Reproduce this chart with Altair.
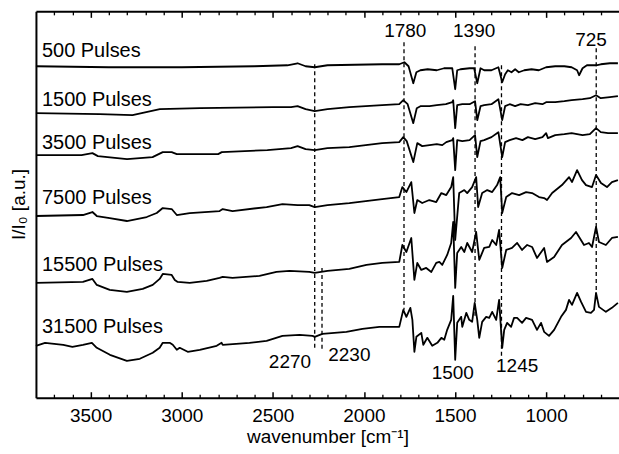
import altair as alt
import pandas as pd

# ---------------- spectra (wavenumber, I/I0 in arbitrary offset units) ----------------
w500 = [3800, 3400, 3000, 2600, 2420, 2364, 2320, 2270, 2200, 1900, 1806, 1778, 1755, 1729, 1712,
        1690, 1650, 1600, 1560, 1515, 1499, 1488, 1470, 1420, 1395, 1378, 1360, 1340, 1300, 1262,
        1241, 1225, 1210, 1190, 1170, 1150, 1120, 1080, 1040, 1000, 950, 900, 860, 830, 819,
        800, 776, 726, 700, 650, 606]
v500 = [332, 331, 331, 332, 333, 335, 332, 331, 333, 334, 334, 336, 332, 315, 326,
        328, 329, 328, 330, 330, 309, 328, 329, 330, 330, 315, 330, 328, 328, 331,
        316, 324, 328, 326, 329, 326, 328, 329, 328, 331, 332, 332, 331, 328, 323,
        330, 333, 333, 334, 335, 335]

w1500 = [3800, 3450, 3270, 3120, 2900, 2500, 2400, 2364, 2320, 2270, 2200, 2080, 1900, 1806, 1784,
         1760, 1729, 1710, 1690, 1640, 1600, 1550, 1515, 1510, 1499, 1488, 1460, 1420, 1390, 1378,
         1360, 1340, 1300, 1262, 1241, 1225, 1200, 1170, 1140, 1100, 1060, 1020, 1000, 950, 900,
         860, 800, 760, 726, 700, 650, 606]
v1500 = [285, 284, 283, 289, 290, 291, 291, 292, 289, 287, 289, 291, 293, 294, 298,
         294, 275, 290, 292, 292, 293, 294, 296, 298, 270, 293, 294, 294, 297, 278,
         292, 293, 294, 299, 278, 292, 294, 292, 294, 293, 295, 294, 296, 296, 297,
         298, 299, 300, 303, 300, 301, 302]

w3500 = [3800, 3550, 3490, 3460, 3300, 3160, 3104, 3055, 3027, 2800, 2780, 2530, 2400, 2364, 2320,
         2270, 2200, 2080, 1900, 1806, 1784, 1765, 1729, 1707, 1680, 1640, 1600, 1570, 1548, 1515,
         1510, 1499, 1488, 1460, 1420, 1390, 1378, 1360, 1340, 1300, 1262, 1241, 1225, 1200, 1165,
         1130, 1100, 1060, 1020, 1000, 990, 950, 900, 860, 800, 760, 726, 700, 660, 606]
v3500 = [243, 243, 245, 242, 239, 241, 246, 246, 244, 244, 246, 248, 250, 252, 249,
         248, 250, 251, 255, 256, 261, 257, 236, 255, 252, 253, 254, 253, 256, 258,
         260, 228, 258, 257, 258, 263, 241, 257, 258, 261, 266, 241, 256, 258, 260,
         258, 261, 259, 261, 265, 260, 263, 264, 265, 263, 264, 270, 266, 265, 265]

w7500 = [3800, 3542, 3490, 3466, 3395, 3301, 3192, 3137, 3104, 3055, 3027, 2956, 2792, 2775, 2721,
         2534, 2447, 2364, 2300, 2270, 2200, 2080, 1900, 1806, 1789, 1767, 1740, 1723, 1707, 1680,
         1641, 1603, 1575, 1548, 1521, 1510, 1499, 1477, 1449, 1433, 1406, 1384, 1373, 1351, 1323,
         1296, 1269, 1252, 1241, 1219, 1187, 1148, 1110, 1077, 1039, 1011, 995, 967, 913, 874,
         858, 830, 803, 781, 748, 726, 699, 666, 639, 606]
v7500 = [182, 183, 186, 182, 180, 177, 181, 185, 190, 189, 183, 185, 187, 189, 187,
         191, 194, 193, 193, 191, 193, 195, 199, 201, 211, 206, 216, 185, 198, 195,
         198, 196, 205, 203, 211, 221, 158, 205, 208, 205, 211, 221, 191, 205, 208,
         206, 213, 221, 185, 201, 205, 203, 206, 205, 201, 200, 198, 205, 213, 221,
         216, 228, 218, 213, 211, 223, 215, 211, 216, 218]

w15500 = [3800, 3542, 3490, 3466, 3395, 3301, 3214, 3159, 3121, 3104, 3055, 3038, 3022, 2956, 2863,
          2792, 2775, 2721, 2573, 2480, 2408, 2300, 2270, 2200, 2080, 1986, 1899, 1806, 1789, 1767,
          1740, 1723, 1707, 1685, 1658, 1630, 1603, 1586, 1570, 1543, 1521, 1510, 1499, 1488, 1466,
          1449, 1433, 1406, 1384, 1367, 1340, 1312, 1296, 1274, 1258, 1241, 1219, 1187, 1159, 1132,
          1104, 1077, 1050, 1011, 995, 956, 913, 863, 836, 819, 792, 765, 748, 726, 710,
          672, 639, 606]
v15500 = [115, 116, 119, 113, 108, 106, 109, 113, 119, 124, 123, 118, 116, 115, 117,
          120, 121, 120, 122, 126, 127, 126, 125, 127, 129, 133, 135, 136, 153, 146,
          160, 118, 135, 128, 130, 126, 135, 136, 133, 143, 155, 176, 110, 145, 151,
          146, 155, 146, 166, 138, 150, 151, 158, 153, 168, 130, 148, 150, 155, 148,
          153, 151, 140, 150, 136, 141, 153, 160, 166, 161, 153, 155, 151, 171, 156,
          153, 160, 161]

w31500 = [3800, 3750, 3700, 3650, 3600, 3542, 3493, 3466, 3394, 3301, 3230, 3159, 3121, 3104, 3066,
          3049, 3027, 3011, 2967, 2901, 2808, 2781, 2775, 2628, 2534, 2447, 2353, 2282, 2270, 2228,
          2096, 2008, 1915, 1806, 1784, 1767, 1745, 1734, 1723, 1712, 1685, 1674, 1652, 1625, 1597,
          1575, 1559, 1543, 1521, 1510, 1499, 1488, 1466, 1460, 1438, 1422, 1406, 1392, 1378, 1367,
          1351, 1329, 1312, 1296, 1274, 1258, 1241, 1230, 1214, 1192, 1176, 1159, 1132, 1110, 1077,
          1050, 1028, 1011, 984, 956, 918, 891, 874, 858, 830, 808, 781, 754, 737, 726,
          710, 672, 639, 606]
v31500 = [52, 55, 54, 53, 51, 53, 55, 50, 43, 37, 39, 45, 50, 55, 55,
          53, 48, 50, 46, 48, 52, 55, 53, 55, 57, 62, 63, 62, 61, 64,
          66, 69, 71, 71, 88, 81, 90, 78, 46, 61, 65, 53, 60, 52, 55,
          60, 58, 68, 78, 102, 38, 75, 81, 71, 85, 78, 76, 95, 78, 60,
          76, 81, 80, 86, 78, 98, 50, 68, 75, 71, 80, 80, 75, 80, 78,
          68, 75, 66, 62, 68, 81, 88, 98, 93, 105, 96, 86, 85, 88, 105,
          91, 86, 90, 95]

trace_names = ["500 Pulses", "1500 Pulses", "3500 Pulses", "7500 Pulses", "15500 Pulses", "31500 Pulses"]
trace_w = [w500, w1500, w3500, w7500, w15500, w31500]
trace_v = [v500, v1500, v3500, v7500, v15500, v31500]
trace_label_v = [347, 298, 255, 200, 133, 71]
trace_label_w = [3767, 3767, 3767, 3767, 3767, 3767]

# ---------------- band markers ----------------
band_w = [2270, 2230, 1780, 1390, 1245, 725]
band_top = [334, 130, 356, 352, 333, 350]
band_bottom = [48, 48, 88, 81, 40, 98]

band_label = ["2270", "2230", "1780", "1390", "1500", "1245", "725"]
band_label_w = [2406, 2080, 1773, 1395, 1512, 1159, 754]
band_label_v = [36, 43, 367, 367, 25, 32, 358]

major_ticks = [1000, 1500, 2000, 2500, 3000, 3500]
minor_ticks = [700, 800, 900, 1100, 1200, 1300, 1400, 1600, 1700, 1800, 1900, 2100, 2200, 2300,
               2400, 2600, 2700, 2800, 2900, 3100, 3200, 3300, 3400, 3600, 3700]

# ---------------- tables ----------------
rows = []
for name, ws, vs in zip(trace_names, trace_w, trace_v):
    for w, v in zip(ws, vs):
        rows.append({"trace": name, "w": w, "v": v})
spec_df = pd.DataFrame(rows)
band_df = pd.DataFrame({"w": band_w, "top": band_top, "bottom": band_bottom})
blab_df = pd.DataFrame({"w": band_label_w, "v": band_label_v, "label": band_label})
tlab_df = pd.DataFrame({"w": trace_label_w, "v": trace_label_v, "label": trace_names})

FONT = "Liberation Sans"
xscale = alt.Scale(domain=[600, 3800], reverse=True, nice=False, zero=False)
yscale = alt.Scale(domain=[0, 387], nice=False, zero=False)


def tick_axis(orient, values, size, width):
    return alt.Axis(orient=orient, values=values, offset=-size, tickSize=size, tickWidth=width,
                    tickColor="black", domain=False, grid=False, labels=False, title="")


x_bottom_major = alt.Axis(orient="bottom", values=major_ticks, offset=-6, tickSize=6, tickWidth=1.5,
                          tickColor="black", domain=False, grid=False, format="d",
                          labelFont=FONT, labelFontSize=19, labelColor="black", labelPadding=9,
                          title="wavenumber [cm⁻¹]", titleFont=FONT, titleFontSize=19,
                          titleFontWeight="normal", titleColor="black", titlePadding=2)
frame_axis_bottom = alt.Axis(orient="bottom", offset=0, ticks=False, labels=False, grid=False,
                             domain=True, domainColor="black", domainWidth=2, title="")
frame_axis_top = alt.Axis(orient="top", offset=0, ticks=False, labels=False, grid=False,
                          domain=True, domainColor="black", domainWidth=2, title="")
y_axis = alt.Axis(orient="left", ticks=False, labels=False, grid=False,
                  domain=True, domainColor="black", domainWidth=2,
                  title="I/I₀ [a.u.]", titleFont=FONT, titleFontSize=19, titleFontWeight="normal",
                  titleColor="black", titleX=-11, titleY=193, titleAngle=270,
                  titleAlign="center", titleBaseline="alphabetic")

lines = alt.Chart(spec_df).mark_line(color="black", strokeWidth=1.8, strokeJoin="round").encode(
    x=alt.X("w:Q", scale=xscale, axis=x_bottom_major),
    y=alt.Y("v:Q", scale=yscale, axis=y_axis),
    detail="trace:N",
)

rules = alt.Chart(band_df).mark_rule(color="black", strokeDash=[4, 3], strokeWidth=1.3).encode(
    x=alt.X("w:Q", scale=xscale, axis=tick_axis("top", major_ticks, 6, 1.5)),
    y=alt.Y("top:Q", scale=yscale, axis=None),
    y2="bottom:Q",
)

band_text = alt.Chart(blab_df).mark_text(font=FONT, fontSize=19, color="black",
                                         align="center", baseline="middle").encode(
    x=alt.X("w:Q", scale=xscale, axis=tick_axis("bottom", minor_ticks, 3.5, 1.3)),
    y=alt.Y("v:Q", scale=yscale, axis=None),
    text="label:N",
)

trace_text = alt.Chart(tlab_df).mark_text(font=FONT, fontSize=20, color="black",
                                          align="left", baseline="middle").encode(
    x=alt.X("w:Q", scale=xscale, axis=tick_axis("top", minor_ticks, 3.5, 1.3)),
    y=alt.Y("v:Q", scale=yscale, axis=None),
    text="label:N",
)

# invisible layers that only carry the bottom and top frame lines of the plot box
frame_bottom = alt.Chart(band_df).mark_rule(opacity=0).encode(
    x=alt.X("w:Q", scale=xscale, axis=frame_axis_bottom),
    y=alt.Y("top:Q", scale=yscale, axis=None),
)
frame_top = alt.Chart(band_df).mark_rule(opacity=0).encode(
    x=alt.X("w:Q", scale=xscale, axis=frame_axis_top),
    y=alt.Y("top:Q", scale=yscale, axis=None),
)

chart = alt.layer(lines, rules, band_text, trace_text, frame_bottom, frame_top).resolve_axis(
    x="independent", y="independent"
).properties(
    width=584, height=387,
    padding={"left": 36, "right": 0, "top": 11, "bottom": 56},
    autosize=alt.AutoSizeParams(type="none"),
    background="white",
).configure_view(stroke="transparent")

chart.save("out.html", embed_options={"renderer": "svg", "actions": False})
